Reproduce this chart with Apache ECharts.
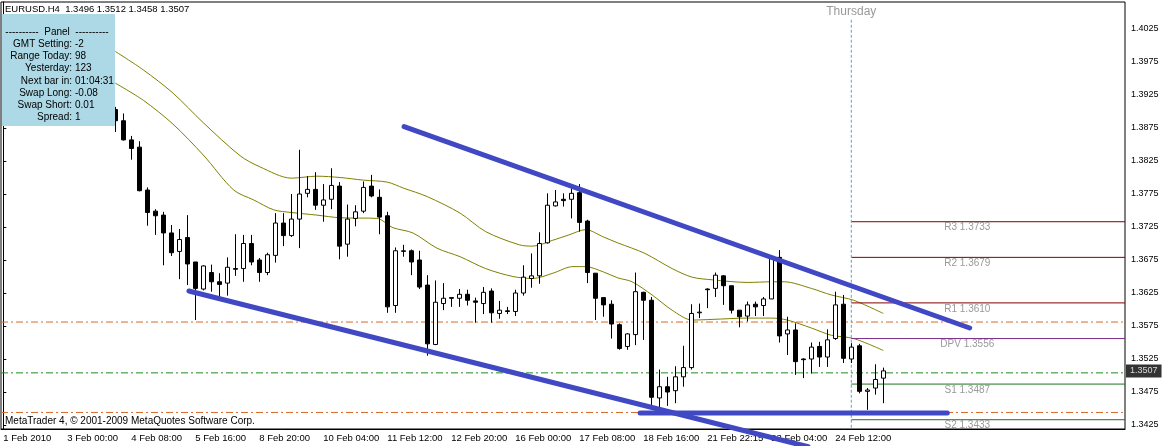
<!DOCTYPE html>
<html><head><meta charset="utf-8">
<script src="https://cdn.jsdelivr.net/npm/echarts@6/dist/echarts.min.js"></script>
<style>html,body{margin:0;padding:0;background:#fff}#c{width:1163px;height:446px}</style>
</head><body><div id="c"></div><script>
// ---------- data ----------
const symbolTitle = 'EURUSD.H4';
const titleOHLC = ['1.3496', '1.3512', '1.3458', '1.3507'];
const dateLabels = ['1 Feb 2010','3 Feb 00:00','4 Feb 08:00','5 Feb 16:00','8 Feb 20:00','10 Feb 04:00','11 Feb 12:00','12 Feb 20:00','16 Feb 00:00','17 Feb 08:00','18 Feb 16:00','21 Feb 22:15','23 Feb 04:00','24 Feb 12:00'];
const dateLabelBars = [0,8,16,24,32,40,48,56,64,72,80,88,96,104];
const priceTicks = [1.3425,1.3475,1.3525,1.3575,1.3625,1.3675,1.3725,1.3775,1.3825,1.3875,1.3925,1.3975,1.4025];
const firstBar = 14;
const opens  = [1.3903,1.3886,1.3857,1.3846,1.3781,1.3749,1.3743,1.3716,1.3688,1.3709,1.3672,1.3631,1.3656,1.3642,1.3640,1.3662,1.3662,1.3700,1.3675,1.3656,1.3682,1.3731,1.3712,1.3737,1.3776,1.3782,1.3758,1.3767,1.3787,1.3699,1.3738,1.3749,1.3787,1.3770,1.3742,1.3606,1.3688,1.3689,1.3675,1.3637,1.3547,1.3609,1.3618,1.3617,1.3623,1.3613,1.3609,1.3628,1.3594,1.3598,1.3597,1.3625,1.3647,1.3651,1.3701,1.3757,1.3767,1.3767,1.3777,1.3734,1.3655,1.3618,1.3608,1.3577,1.3544,1.3562,1.3626,1.3614,1.3466,1.3483,1.3477,1.3498,1.3512,1.3595,1.3631,1.3632,1.3651,1.3636,1.3599,1.3590,1.3608,1.3606,1.3616,1.3679,1.3563,1.3569,1.3525,1.3525,1.3544,1.3528,1.3556,1.3608,1.3525,1.3545,1.3476,1.3481,1.3496];
const closes = [1.3886,1.3857,1.3844,1.3780,1.3747,1.3742,1.3716,1.3686,1.3706,1.3669,1.3632,1.3666,1.3642,1.3638,1.3664,1.3661,1.3700,1.3672,1.3656,1.3683,1.3731,1.3712,1.3737,1.3775,1.3782,1.3758,1.3766,1.3788,1.3696,1.3737,1.3748,1.3785,1.3772,1.3740,1.3604,1.3689,1.3689,1.3672,1.3634,1.3548,1.3611,1.3617,1.3617,1.3623,1.3614,1.3611,1.3626,1.3595,1.3599,1.3597,1.3625,1.3649,1.3651,1.3700,1.3758,1.3763,1.3765,1.3776,1.3732,1.3656,1.3617,1.3607,1.3578,1.3541,1.3563,1.3627,1.3614,1.3467,1.3483,1.3475,1.3498,1.3512,1.3594,1.3596,1.3630,1.3652,1.3636,1.3599,1.3589,1.3607,1.3604,1.3616,1.3678,1.3560,1.3569,1.3521,1.3524,1.3543,1.3528,1.3554,1.3607,1.3526,1.3543,1.3476,1.3478,1.3494,1.3507];
const lows   = [1.3869,1.3856,1.3827,1.3779,1.3727,1.3713,1.3667,1.3681,1.3646,1.3637,1.3584,1.3629,1.3627,1.3619,1.3621,1.3651,1.3642,1.3667,1.3642,1.3652,1.3671,1.3696,1.3710,1.3693,1.3770,1.3751,1.3733,1.3752,1.3676,1.3680,1.3726,1.3746,1.3770,1.3714,1.3595,1.3595,1.3680,1.3652,1.3631,1.3530,1.3546,1.3599,1.3604,1.3604,1.3606,1.3580,1.3593,1.3580,1.3586,1.3593,1.3590,1.3621,1.3633,1.3639,1.3700,1.3756,1.3756,1.3738,1.3718,1.3640,1.3584,1.3589,1.3556,1.3539,1.3539,1.3546,1.3554,1.3453,1.3452,1.3454,1.3458,1.3483,1.3509,1.3587,1.3602,1.3619,1.3607,1.3594,1.3573,1.3582,1.3590,1.3590,1.3616,1.3550,1.3531,1.3501,1.3496,1.3503,1.3513,1.3513,1.3554,1.3519,1.3519,1.3473,1.3448,1.3471,1.3458];
const highs  = [1.3907,1.3897,1.3863,1.3855,1.3785,1.3752,1.3748,1.3728,1.3722,1.3743,1.3672,1.3667,1.3668,1.3655,1.3679,1.3714,1.3713,1.3713,1.3678,1.3686,1.3746,1.3746,1.3775,1.3842,1.3802,1.3808,1.3790,1.3814,1.3793,1.3759,1.3758,1.3794,1.3804,1.3782,1.3748,1.3694,1.3698,1.3691,1.3689,1.3652,1.3644,1.3640,1.3618,1.3631,1.3630,1.3618,1.3634,1.3632,1.3613,1.3604,1.3630,1.3667,1.3685,1.3717,1.3776,1.3781,1.3776,1.3784,1.3790,1.3736,1.3655,1.3618,1.3614,1.3579,1.3564,1.3656,1.3627,1.3619,1.3509,1.3498,1.3514,1.3545,1.3608,1.3609,1.3632,1.3656,1.3652,1.3636,1.3599,1.3612,1.3612,1.3619,1.3680,1.3690,1.3589,1.3579,1.3526,1.3550,1.3551,1.3570,1.3627,1.3622,1.3549,1.3548,1.3481,1.3517,1.3512];
const maUpperBars = [14,17.5,21.2,25,29.6,32.1,36,39.2,42.1,45,48,50,53,57.1,60.3,64.5,66.2,68.7,70.7,72.8,75,76.8,80.2,83.6,86.1,88.6,93.1,96,97.6,101,103.5,106.3,110];
const maUpperVals = [1.3991,1.3963,1.3928,1.3883,1.3833,1.3816,1.3799,1.3802,1.3800,1.3796,1.3793,1.3784,1.3771,1.3746,1.3718,1.3698,1.3696,1.3705,1.3713,1.3721,1.3710,1.3701,1.3685,1.3662,1.3649,1.3645,1.3641,1.3642,1.3642,1.3632,1.3622,1.3614,1.3594];
const maLowerBars = [14,17.5,21.2,25,28.8,31.3,33.8,36,39.2,42.1,46.7,48.7,51.2,54.2,57.1,60.3,63.7,66.2,68.7,71.2,72.8,75,76.8,78.6,81.1,83.6,86.1,88.6,93.1,96,98,101,103.5,106.3,110];
const maLowerVals = [1.3943,1.3917,1.3881,1.3834,1.3781,1.3766,1.3751,1.3747,1.3743,1.3739,1.3738,1.3724,1.3716,1.3693,1.3680,1.3662,1.3650,1.3647,1.3655,1.3665,1.3665,1.3657,1.3648,1.3642,1.3622,1.3599,1.3584,1.3585,1.3587,1.3587,1.3584,1.3572,1.3561,1.3556,1.3538];
const trendUpperBars = [50.1, 120.8], trendUpperVals = [1.3877, 1.3572];
const trendLowerBars = [23.2, 100.6], trendLowerVals = [1.3628, 1.3392];
const supportBars = [79.6, 118], supportVals = [1.3443, 1.3443];
const pivotNames = ['R3','R2','R1','DPV','S1','S2'];
const pivotVals = [1.3733, 1.3679, 1.3610, 1.3556, 1.3487, 1.3433];
const pivotStartBar = 106, pivotLabelBar = 120.5;
const dayName = 'Thursday', dayTopPrice = 1.4039;
const levelOrange = [1.3581, 1.3444];
const levelGreen = 1.3504;
const bidPrice = 1.3507;
const panelLabels = ['GMT Setting:','Range Today:','Yesterday:','Next bar in:','Swap Long:','Swap Short:','Spread:'];
const panelValues = ['-2','98','123','01:04:31','-0.08','0.01','1'];
const panelHeader = '----------  Panel  ----------';
const copyright = 'MetaTrader 4, \u00a9 2001-2009 MetaQuotes Software Corp.';

// ---------- styles / layout ----------
const FONT = '"Liberation Sans", Arial, sans-serif';
const xMin = -0.2875, xMax = 140.2125;
const yMin = 1.341894, yMax = 1.406591;
const pivotColors = ['#800000','#800000','#800000','#7b2d8b','#207020','#207020'];
const blue = '#4048c4';
const dashDot = [7, 3, 2, 3];

const pairs = (xs, ys) => xs.map((x, i) => [x, ys[i]]);
const candles = opens.map((o, k) => [firstBar + k, o, closes[k], lows[k], highs[k]]);
const hLine = (v, color, type) => ({ type: 'line', data: [[xMin, v], [xMax, v]], showSymbol: false, silent: true, z: 1, lineStyle: { color: color, width: 1, type: type } });

const series = [];
levelOrange.forEach(v => series.push(hLine(v, '#d8692a', dashDot)));
series.push(hLine(levelGreen, '#1e8a1e', dashDot));
series.push({
  type: 'candlestick', data: candles, barWidth: 5, z: 3,
  itemStyle: { color: '#fff', color0: '#000', borderColor: '#000', borderColor0: '#000', borderWidth: 1 }
});
series.push({ type: 'line', data: pairs(maUpperBars, maUpperVals), showSymbol: false, smooth: 0.3, lineStyle: { color: '#808000', width: 1 }, z: 2 });
series.push({ type: 'line', data: pairs(maLowerBars, maLowerVals), showSymbol: false, smooth: 0.3, lineStyle: { color: '#808000', width: 1 }, z: 2 });
pivotNames.forEach((n, i) => {
  series.push({ type: 'line', data: [[pivotStartBar, pivotVals[i]], [xMax, pivotVals[i]]], showSymbol: false, lineStyle: { color: pivotColors[i], width: 1 }, z: 2 });
});
series.push({
  type: 'line', showSymbol: false, z: 2,
  data: [[pivotStartBar, dayTopPrice], [pivotStartBar, yMin]],
  lineStyle: { color: '#5aa6bb', width: 1, type: [3, 2] }
});
series.push({
  type: 'scatter', symbolSize: 0, z: 4, silent: true,
  data: pivotNames.map((n, i) => ({ value: [pivotLabelBar, pivotVals[i]], name: n + ' ' + pivotVals[i].toFixed(4) }))
    .concat([{ value: [pivotStartBar, dayTopPrice], name: dayName, label: { position: 'top', distance: 2, fontSize: 12 } }]),
  label: { show: true, position: 'bottom', distance: 1, formatter: p => p.name, color: '#808080', fontSize: 10, fontFamily: FONT }
});
series.push({
  type: 'scatter', symbolSize: 0, z: 6, silent: true, clip: false,
  data: [{ value: [xMax, bidPrice], name: bidPrice.toFixed(4) }],
  label: { show: true, position: 'right', distance: 1, formatter: p => p.name, backgroundColor: '#000', color: '#fff', padding: [2, 4, 2, 4], fontSize: 9, fontFamily: FONT }
});
[[trendUpperBars, trendUpperVals], [trendLowerBars, trendLowerVals], [supportBars, supportVals]].forEach(([xs, ys]) => {
  series.push({ type: 'line', data: pairs(xs, ys), showSymbol: false, clip: false, z: 5, lineStyle: { color: blue, width: 5, cap: 'round' } });
});

const graphic = [];
graphic.push({ type: 'text', x: 5, y: 9, z: 100, style: { text: symbolTitle + '  ' + titleOHLC.join(' '), font: '9.5px ' + FONT, fill: '#000', align: 'left', verticalAlign: 'middle' } });
graphic.push({ type: 'rect', x: 2, y: 14, z: 100, shape: { width: 113, height: 112 }, style: { fill: '#add8e6' } });
graphic.push({ type: 'text', x: 57, y: 32, z: 101, style: { text: panelHeader, font: '10px ' + FONT, fill: '#000', align: 'center', verticalAlign: 'middle' } });
panelLabels.forEach((t, i) => {
  graphic.push({ type: 'text', x: 72, y: 44.3 + i * 12.15, z: 101, style: { text: t, font: '10px ' + FONT, fill: '#000', align: 'right', verticalAlign: 'middle' } });
  graphic.push({ type: 'text', x: 75, y: 44.3 + i * 12.15, z: 101, style: { text: panelValues[i], font: '10px ' + FONT, fill: '#000', align: 'left', verticalAlign: 'middle' } });
});
graphic.push({ type: 'text', x: 5, y: 421, z: 100, style: { text: copyright, font: '10px ' + FONT, fill: '#000', align: 'left', verticalAlign: 'middle' } });

const chart = echarts.init(document.getElementById('c'), null, { renderer: 'canvas' });
chart.setOption({
  animation: false,
  backgroundColor: '#fff',
  grid: { left: 1, top: 2, right: 38, bottom: 17, show: true, borderColor: '#000', borderWidth: 1, backgroundColor: '#fff' },
  xAxis: {
    type: 'value', min: xMin, max: xMax, splitLine: { show: false },
    axisLine: { show: true, onZero: false, lineStyle: { color: '#000' } }, axisTick: { show: false },
    axisLabel: { customValues: dateLabelBars, formatter: v => dateLabels[dateLabelBars.indexOf(v)], align: 'left', color: '#000', fontSize: 9.5, fontFamily: FONT, margin: 4 }
  },
  yAxis: {
    type: 'value', position: 'right', min: yMin, max: yMax, splitLine: { show: false },
    axisLine: { show: true, lineStyle: { color: '#000' } },
    axisTick: { show: true, customValues: priceTicks, length: 3, lineStyle: { color: '#000' } },
    axisLabel: { customValues: priceTicks, formatter: v => v.toFixed(4), color: '#000', fontSize: 9, fontFamily: FONT, margin: 6 }
  },
  series: series,
  graphic: graphic
});
</script></body></html>
